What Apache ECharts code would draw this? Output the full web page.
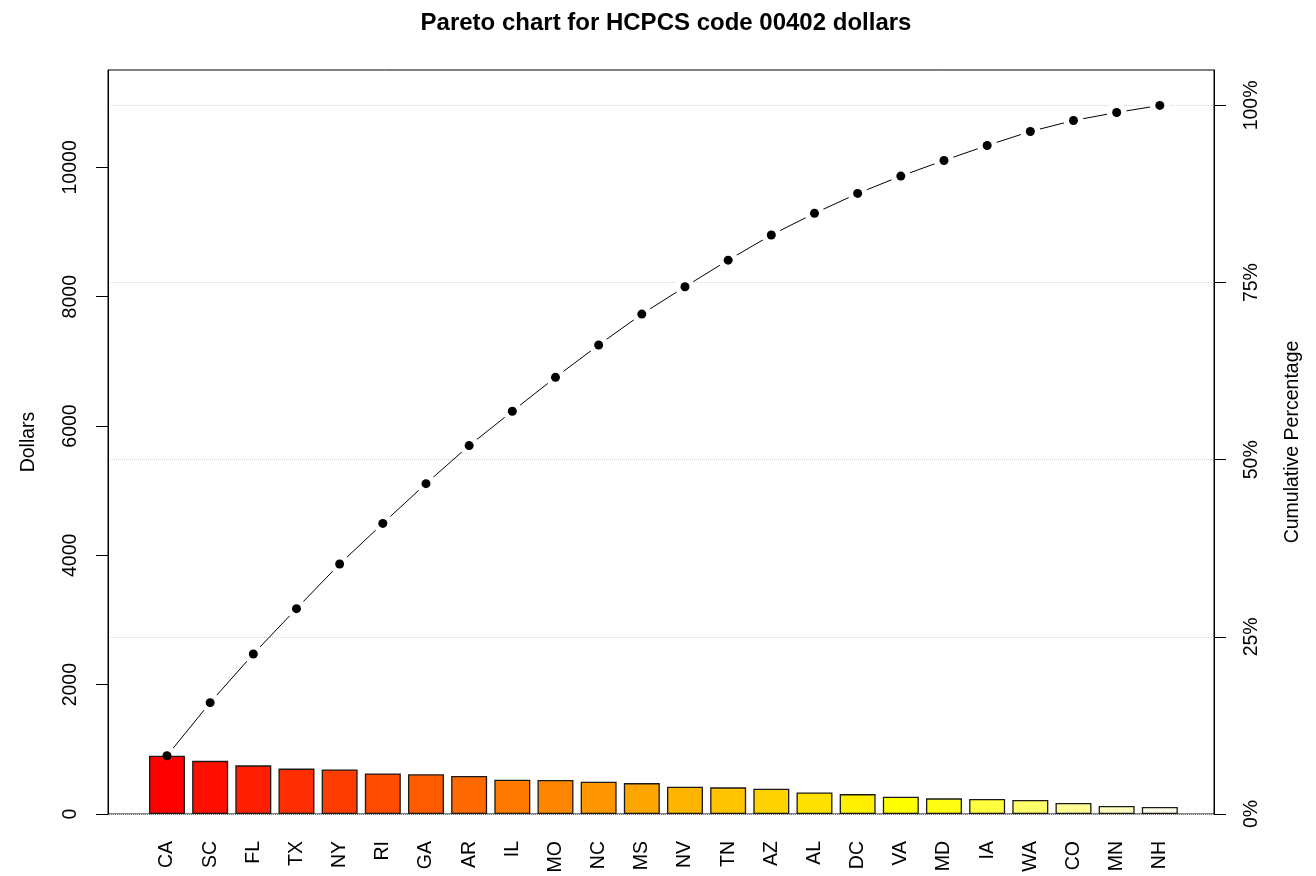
<!DOCTYPE html>
<html>
<head>
<meta charset="utf-8">
<script src="https://cdn.jsdelivr.net/npm/echarts@6/dist/echarts.min.js"></script>
<style>
html,body{margin:0;padding:0;background:#fff;}
#chart{width:1316px;height:876px;}
</style>
</head>
<body>
<div id="chart"></div>
<script>
const categories = ['CA','SC','FL','TX','NY','RI','GA','AR','IL','MO','NC','MS','NV','TN','AZ','AL','DC','VA','MD','IA','WA','CO','MN','NH'];
const dollars = [900,822,752,702,690,628,615,588,531,525,500,478,422,412,390,334,308,268,242,232,216,170,124,109];
const barColors = ['#FF0000','#FF0F00','#FF1E00','#FF2D00','#FF3C00','#FF4B00','#FF5A00','#FF6900','#FF7800','#FF8700','#FF9600','#FFA500','#FFB400','#FFC300','#FFD200','#FFE100','#FFF000','#FFFF00','#FFFF15','#FFFF40','#FFFF6A','#FFFF95','#FFFFBF','#FFFFEA'];
const dollarTicks = [0,2000,4000,6000,8000,10000];
const percentTicks = [0,25,50,75,100];

const total = dollars.reduce((a,b)=>a+b,0);
let run = 0;
const cumPct = dollars.map(v => { run += v; return run / total * 100; });
const yMax = total * 1.05;
const pMax = 105;

const FONT = "'Liberation Sans', Arial, Helvetica, sans-serif";
const FS = 19.5;
const chart = echarts.init(document.getElementById('chart'));
const axisFont = {fontFamily: FONT, fontSize: FS, color: '#000'};

chart.setOption({
  animation: false,
  backgroundColor: '#fff',
  title: {
    text: 'Pareto chart for HCPCS code 00402 dollars',
    left: 661, top: 6, textAlign: 'center',
    textStyle: {fontFamily: FONT, fontSize: 24, fontWeight: 'bold', color: '#000'}
  },
  grid: [
    {left: 145.4, right: 1316 - 1181.4, top: 70, bottom: 62, containLabel: false},
    {left: 108, right: 1316 - 1214, top: 70, bottom: 62, show: true, borderColor: '#000', borderWidth: 1, backgroundColor: 'transparent', containLabel: false}
  ],
  xAxis: [
    {type: 'category', gridIndex: 0, data: categories, boundaryGap: true,
     axisLine: {show: false}, axisTick: {show: false},
     axisLabel: Object.assign({rotate: 90, margin: 27, interval: 0}, axisFont)},
    {type: 'value', gridIndex: 1, show: false, min: 0, max: 1}
  ],
  yAxis: [
    {type: 'value', gridIndex: 1, position: 'left', min: 0, max: yMax,
     name: 'Dollars', nameLocation: 'middle', nameGap: 69, nameRotate: 90,
     nameTextStyle: {fontFamily: FONT, fontSize: FS, color: '#000'},
     axisLine: {show: true, lineStyle: {color: '#000'}},
     axisTick: {show: true, length: 12, lineStyle: {color: '#000'}, customValues: dollarTicks},
     axisLabel: Object.assign({rotate: 90, margin: 27, customValues: dollarTicks, formatter: v => String(v)}, axisFont),
     splitLine: {show: false}},
    {type: 'value', gridIndex: 1, position: 'right', min: 0, max: pMax,
     name: 'Cumulative Percentage', nameLocation: 'middle', nameGap: 69, nameRotate: 90,
     nameTextStyle: {fontFamily: FONT, fontSize: FS, color: '#000'},
     axisLine: {show: true, lineStyle: {color: '#000'}},
     axisTick: {show: true, length: 12, lineStyle: {color: '#000'}, customValues: percentTicks},
     axisLabel: Object.assign({rotate: 90, margin: 28, customValues: percentTicks, formatter: v => v + '%'}, axisFont),
     splitLine: {show: true, lineStyle: {color: '#d3d3d3', type: 'dotted', width: 1}}},
    {type: 'value', gridIndex: 0, show: false, min: 0, max: yMax, splitLine: {show: false}},
    {type: 'value', gridIndex: 0, show: false, min: 0, max: pMax, splitLine: {show: false}}
  ],
  series: [
    {type: 'line', xAxisIndex: 0, yAxisIndex: 3, data: cumPct, silent: true,
     symbol: 'circle', symbolSize: 20, showAllSymbol: true,
     itemStyle: {color: '#fff', borderWidth: 0, opacity: 1},
     lineStyle: {color: '#000', width: 1}, z: 2},
    {type: 'bar', xAxisIndex: 0, yAxisIndex: 2, silent: true, barWidth: '83.33%',
     data: dollars.map((v, i) => ({value: v, itemStyle: {color: barColors[i]}})),
     itemStyle: {borderColor: '#1a1a1a', borderWidth: 1.3}, z: 3},
    {type: 'scatter', xAxisIndex: 0, yAxisIndex: 3, data: cumPct, silent: true,
     symbol: 'circle', symbolSize: 9, itemStyle: {color: '#000', opacity: 1}, z: 4}
  ]
});
</script>
</body>
</html>
